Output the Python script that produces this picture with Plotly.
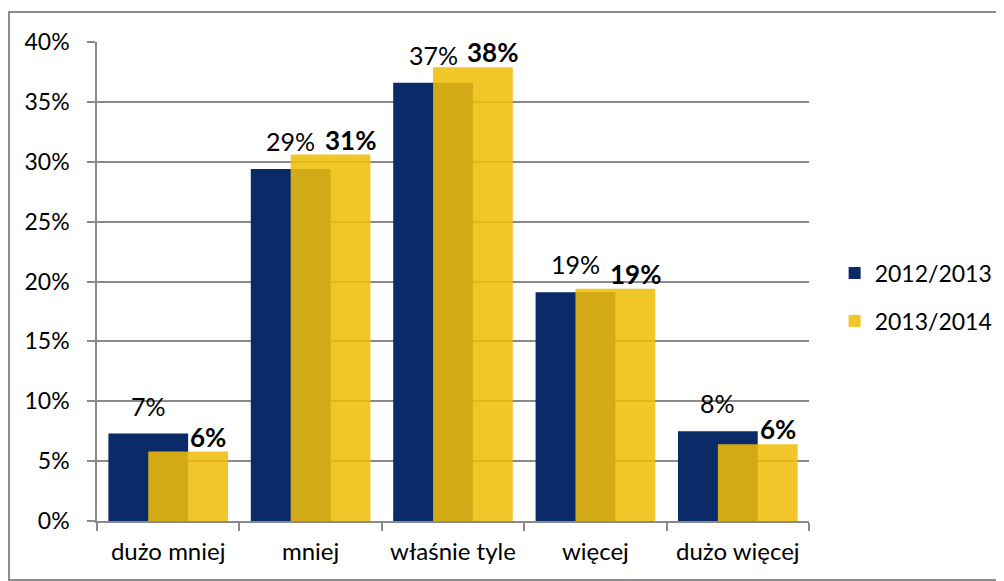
import plotly.graph_objects as go

categories = ["dużo mniej", "mniej", "właśnie tyle", "więcej", "dużo więcej"]
series_names = ["2012/2013", "2013/2014"]
values_2012 = [0.073, 0.294, 0.366, 0.191, 0.075]
values_2013 = [0.058, 0.306, 0.379, 0.194, 0.064]
labels_2012 = ["7%", "29%", "37%", "19%", "8%"]
labels_2013 = ["6%", "31%", "38%", "19%", "6%"]
y_ticks = [0, 0.05, 0.10, 0.15, 0.20, 0.25, 0.30, 0.35, 0.40]

FONT = "Lato"
BLUE = "#0B2A68"
YELLOW = "#F0BE0A"
GRID = "#8A8A8A"

W = 0.56
OFF_A = -0.42
OFF_B = -0.14

# page body has an 8px margin; figure is sized/offset to compensate
L, T, PW, PH = 89, 34, 712, 479
FW, FH = 996, 573

fig = go.Figure()
fig.add_trace(go.Bar(
    x=categories, y=values_2012, name=series_names[0],
    marker=dict(color=BLUE, line=dict(width=0)),
    width=W, offset=OFF_A, legendgroup="a",
))
fig.add_trace(go.Bar(
    x=categories, y=values_2013, name=series_names[1],
    marker=dict(color=YELLOW, line=dict(width=0)),
    opacity=0.87,
    width=W, offset=OFF_B, legendgroup="b",
))

annotations = []
for i, (v, t) in enumerate(zip(values_2012, labels_2012)):
    annotations.append(dict(
        x=i + OFF_A + W / 2, y=v, xref="x", yref="y", text=t, showarrow=False,
        yanchor="middle", xanchor="center", yshift=28,
        font=dict(family=FONT, size=25, color="#000000"),
    ))
for i, (v, t) in enumerate(zip(values_2013, labels_2013)):
    annotations.append(dict(
        x=i + OFF_B + W / 2 + 0.14, y=v, xref="x", yref="y", text="<b>" + t + "</b>",
        showarrow=False, yanchor="middle", xanchor="center", yshift=15,
        font=dict(family=FONT, size=26, color="#000000"),
    ))

fig.update_layout(
    width=FW, height=FH,
    barmode="overlay",
    paper_bgcolor="white", plot_bgcolor="white",
    margin=dict(l=L, r=FW - L - PW, t=T, b=FH - T - PH, autoexpand=False),
    font=dict(family=FONT, size=23, color="#000000"),
    showlegend=True,
    legend=dict(
        x=1.036, xanchor="left", y=0.5625, yanchor="top",
        font=dict(family=FONT, size=23, color="#000000"),
        tracegroupgap=15, bgcolor="rgba(0,0,0,0)",
    ),
    annotations=annotations,
    shapes=[dict(
        type="rect", xref="paper", yref="paper",
        x0=(1 - L) / PW, x1=(992 - L) / PW, y0=-(59 / PH), y1=1 + 30 / PH,
        line=dict(color="#8C8C8C", width=2), fillcolor="rgba(0,0,0,0)", layer="below",
    )],
)
fig.update_xaxes(
    type="category", showline=True, linecolor=GRID, linewidth=1.5,
    ticks="outside", tickson="boundaries", ticklen=8, tickcolor=GRID, tickwidth=1.5,
    showgrid=False, tickfont=dict(family=FONT, size=24), ticklabelstandoff=8,
)
fig.update_yaxes(
    range=[0, 0.40], tickvals=y_ticks, tickformat=".0%",
    showline=True, linecolor=GRID, linewidth=1.5,
    ticks="outside", ticklen=8, tickcolor=GRID, tickwidth=1.5,
    showgrid=True, gridcolor=GRID, gridwidth=1.5, zeroline=False,
    tickfont=dict(family=FONT, size=23), ticklabelstandoff=13,
)

fig.write_html("out.html")
